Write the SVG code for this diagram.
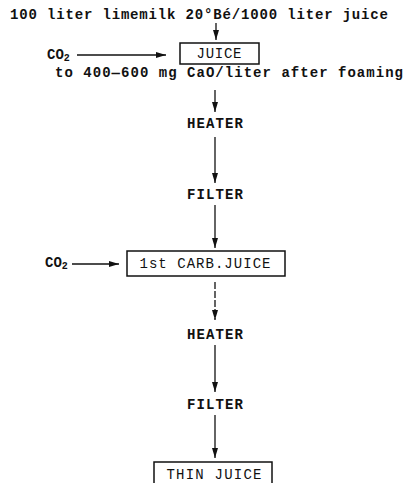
<svg xmlns="http://www.w3.org/2000/svg" width="415" height="483" viewBox="0 0 415 483">
<defs>
<marker id="ah" viewBox="0 0 10 6" refX="10" refY="3" markerWidth="10" markerHeight="6" markerUnits="userSpaceOnUse" orient="auto">
<path d="M0,0 L10,3 L0,6 Z" fill="#111"/>
</marker>
<style>
text{font-family:"Liberation Mono","DejaVu Sans Mono",monospace;font-size:14px;fill:#111;dominant-baseline:central}
.b{font-weight:bold}
.c{text-anchor:middle}
.box{fill:none;stroke:#111;stroke-width:1.5}
.ln{fill:none;stroke:#111;stroke-width:1.3;marker-end:url(#ah)}
</style>
</defs>
<rect width="415" height="483" fill="#fff"/>
<g id="title"><text class="b" x="10" y="15" textLength="378" lengthAdjust="spacing">100 liter limemilk 20°Bé/1000 liter juice</text></g>
<g id="juice"><rect class="box" x="180" y="43" width="79" height="21"/><text class="c" x="219" y="54" textLength="45" lengthAdjust="spacing">JUICE</text></g>
<g id="co2a"><text class="b" x="47" y="55">CO<tspan font-size="10" dy="3">2</tspan></text></g>
<g id="note"><text class="b" x="55" y="73" textLength="348" lengthAdjust="spacing">to 400—600 mg CaO/liter after foaming</text></g>
<g id="heater1"><text class="b c" x="215" y="124" textLength="56" lengthAdjust="spacing">HEATER</text></g>
<g id="filter1"><text class="b c" x="215" y="195" textLength="56" lengthAdjust="spacing">FILTER</text></g>
<g id="carb"><rect class="box" x="127" y="251" width="158" height="25"/><text class="c" x="205" y="264" textLength="131" lengthAdjust="spacing">1st CARB.JUICE</text></g>
<g id="co2b"><text class="b" x="45" y="263">CO<tspan font-size="10" dy="3">2</tspan></text></g>
<g id="heater2"><text class="b c" x="215" y="335" textLength="56" lengthAdjust="spacing">HEATER</text></g>
<g id="filter2"><text class="b c" x="215" y="405" textLength="56" lengthAdjust="spacing">FILTER</text></g>
<g id="thin"><rect class="box" x="154" y="462" width="118" height="30"/><text class="c" x="214" y="475" textLength="95" lengthAdjust="spacing">THIN JUICE</text></g>
<g id="connectors">
<line class="ln" x1="216" y1="23" x2="216" y2="40"/>
<line class="ln" x1="77" y1="55" x2="166" y2="55"/>
<line class="ln" x1="215" y1="90" x2="215" y2="112"/>
<line class="ln" x1="215" y1="137" x2="215" y2="183"/>
<line class="ln" x1="215" y1="205" x2="215" y2="248"/>
<line class="ln" x1="72" y1="264" x2="119" y2="264"/>
<line class="ln" x1="215" y1="282" x2="215" y2="320" stroke-dasharray="7 2"/>
<line class="ln" x1="215" y1="345" x2="215" y2="392"/>
<line class="ln" x1="215" y1="415" x2="215" y2="458"/>
</g>
</svg>
